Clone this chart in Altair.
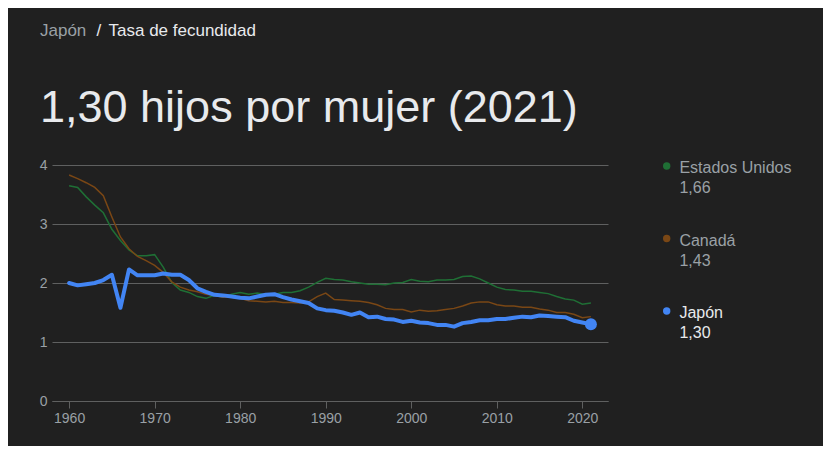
import altair as alt
import pandas as pd

years = list(range(1960, 2022))
japan = [2.00, 1.96, 1.98, 2.00, 2.05, 2.14, 1.58, 2.23, 2.13, 2.13,
         2.13, 2.16, 2.14, 2.14, 2.05, 1.91, 1.85, 1.80, 1.79, 1.77,
         1.75, 1.74, 1.77, 1.80, 1.81, 1.76, 1.72, 1.69, 1.66, 1.57,
         1.54, 1.53, 1.50, 1.46, 1.50, 1.42, 1.43, 1.39, 1.38, 1.34,
         1.36, 1.33, 1.32, 1.29, 1.29, 1.26, 1.32, 1.34, 1.37, 1.37,
         1.39, 1.39, 1.41, 1.43, 1.42, 1.45, 1.44, 1.43, 1.42, 1.36,
         1.33, 1.30]
usa = [3.65, 3.62, 3.46, 3.32, 3.19, 2.91, 2.72, 2.56, 2.46, 2.46,
       2.48, 2.27, 2.01, 1.88, 1.84, 1.77, 1.74, 1.79, 1.76, 1.81,
       1.84, 1.81, 1.83, 1.80, 1.81, 1.84, 1.84, 1.87, 1.93, 2.01,
       2.08, 2.06, 2.05, 2.02, 2.00, 1.98, 1.98, 1.97, 2.00, 2.01,
       2.06, 2.03, 2.02, 2.05, 2.05, 2.06, 2.11, 2.12, 2.07, 2.00,
       1.93, 1.89, 1.88, 1.86, 1.86, 1.84, 1.82, 1.77, 1.73, 1.71,
       1.64, 1.66]
canada = [3.83, 3.77, 3.70, 3.62, 3.48, 3.12, 2.78, 2.58, 2.45, 2.38,
          2.30, 2.18, 2.02, 1.93, 1.88, 1.85, 1.81, 1.79, 1.76, 1.76,
          1.74, 1.70, 1.69, 1.68, 1.69, 1.67, 1.67, 1.66, 1.68, 1.77,
          1.83, 1.72, 1.71, 1.70, 1.69, 1.67, 1.63, 1.57, 1.55, 1.55,
          1.51, 1.54, 1.52, 1.53, 1.55, 1.57, 1.61, 1.66, 1.68, 1.68,
          1.63, 1.61, 1.61, 1.59, 1.59, 1.56, 1.54, 1.50, 1.50, 1.47,
          1.41, 1.43]

series_names = ["Estados Unidos", "Canadá", "Japón"]
series_colors = ["#1f6f35", "#7a4715", "#4285f4"]
latest_labels = ["1,66", "1,43", "1,30"]
x_ticks = [1960, 1970, 1980, 1990, 2000, 2010, 2020]
y_ticks = [0, 1, 2, 3, 4]

breadcrumb_country = "Japón"
breadcrumb_topic = "Tasa de fecundidad"
headline = "1,30 hijos por mujer (2021)"

rows = []
for name, vals in zip(series_names, [usa, canada, japan]):
    for yr, v in zip(years, vals):
        rows.append({"serie": name, "year": yr, "value": v})
df = pd.DataFrame(rows)
legend_df = pd.DataFrame({"serie": series_names, "latest": latest_labels})
last_df = pd.DataFrame({"serie": ["Japón"], "year": [years[-1]], "value": [japan[-1]]})
one = pd.DataFrame({"k": [0]})

GRAY = "#9aa0a6"
WHITE = "#e8eaed"
GRID = "#5f6060"

x_scale = alt.Scale(domain=[1958, 2023], nice=False, zero=False)
y_scale = alt.Scale(domain=[0, 4], nice=False)
color_scale = alt.Scale(domain=series_names, range=series_colors)

x_axis_enc = alt.X("year:Q", scale=x_scale, axis=alt.Axis(
    values=x_ticks, format="d", title=None, grid=False, domain=True,
    domainColor=GRID, ticks=True, tickColor=GRID, tickSize=7,
    labelColor=GRAY, labelFontSize=14, labelPadding=3))
x_enc = alt.X("year:Q", scale=x_scale)
y_axis_enc = alt.Y("value:Q", scale=y_scale, axis=alt.Axis(
    values=y_ticks, format="d", title=None, grid=True, gridColor=GRID,
    domain=False, ticks=False, labelColor=GRAY, labelFontSize=14,
    labelPadding=5))
y_noaxis = alt.Y("value:Q", scale=y_scale, axis=None)
color_enc = alt.Color("serie:N", scale=color_scale, legend=None)

others = alt.Chart(df).transform_filter(alt.datum.serie != "Japón").mark_line(
    strokeWidth=1.5).encode(x=x_axis_enc, y=y_axis_enc, color=color_enc)

jp_line = alt.Chart(df).transform_filter(alt.datum.serie == "Japón").mark_line(
    strokeWidth=4, strokeJoin="round", strokeCap="round").encode(
    x=x_enc, y=y_noaxis, color=color_enc)

jp_dot = alt.Chart(last_df).mark_point(filled=True, shape="circle", size=144, opacity=1).encode(
    x=x_enc, y=y_noaxis, color=color_enc)

leg_y = alt.Y("serie:N", sort=series_names, scale=alt.Scale(range=[1, 146], padding=0), axis=None)
leg_dot = alt.Chart(legend_df).mark_point(filled=True, shape="circle", size=55, opacity=1).encode(
    x=alt.value(614.7), y=leg_y, color=color_enc)
text_color = alt.condition(alt.datum.serie == "Japón", alt.value(WHITE), alt.value(GRAY))
leg_name = alt.Chart(legend_df).mark_text(align="left", baseline="alphabetic", dy=7, fontSize=16).encode(
    x=alt.value(627.4), y=leg_y, text="serie:N", color=text_color)
leg_val = alt.Chart(legend_df).mark_text(align="left", baseline="alphabetic", dy=27, fontSize=16).encode(
    x=alt.value(627.4), y=leg_y, text="latest:N", color=text_color)

def header_text(txt, x, y, size, color):
    return alt.Chart(one).mark_text(align="left", baseline="alphabetic", fontSize=size, color=color).encode(
        x=alt.value(x), y=alt.value(y), text=alt.value(txt))

h1 = header_text(breadcrumb_country, -12, -129.3, 17, GRAY)
h2 = header_text("/", 44.5, -129.3, 17, WHITE)
h3 = header_text(breadcrumb_topic, 56.5, -129.3, 17, WHITE)
h4 = header_text(headline, -12, -43.3, 45, WHITE)

chart = alt.layer(others, jp_line, jp_dot, leg_dot, leg_name, leg_val, h1, h2, h3, h4).resolve_scale(
    y="independent").properties(
    width=556, height=236,
    autosize=alt.AutoSizeParams(type="none"),
    padding={"left": 44, "top": 157, "right": 215, "bottom": 45},
).configure(
    background="#202020", font="Liberation Sans, Arial, sans-serif"
).configure_axis(
    labelFontSize=14, labelColor=GRAY
).configure_view(stroke=None)

chart.save("out.html", embed_options={"renderer": "svg", "actions": False})
